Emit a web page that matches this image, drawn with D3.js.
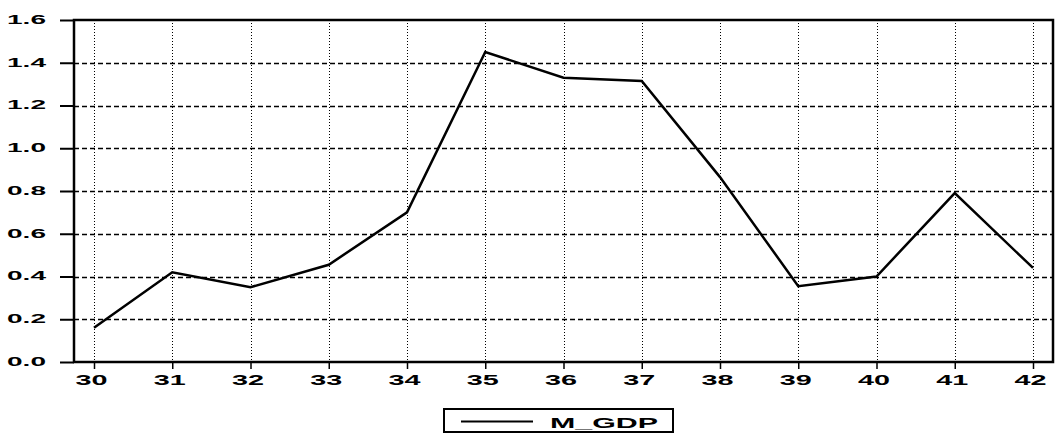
<!DOCTYPE html>
<html>
<head>
<meta charset="utf-8">
<script src="https://cdn.jsdelivr.net/npm/d3@7"></script>
<style>
  html, body { margin: 0; padding: 0; background: #fff; }
  svg { display: block; }
  text { font-family: "Liberation Sans", Arial, sans-serif; font-weight: bold; fill: #000; }
</style>
</head>
<body>
<svg id="chart" width="1058" height="434"></svg>
<script>
const years = [30, 31, 32, 33, 34, 35, 36, 37, 38, 39, 40, 41, 42];
const mGdp = [0.16, 0.42, 0.35, 0.455, 0.70, 1.45, 1.33, 1.315, 0.865, 0.355, 0.40, 0.79, 0.44];
const yTicks = [0.0, 0.2, 0.4, 0.6, 0.8, 1.0, 1.2, 1.4, 1.6];
const seriesName = "M_GDP";

const svg = d3.select("#chart");
const box = { left: 74, right: 1053, top: 20, bottom: 362 };

const x = d3.scaleLinear().domain([30, 42]).range([94, 1033]);
const y = d3.scaleLinear().domain([0, 1.6]).range([box.bottom, box.top]);

// horizontal dashed grid
svg.append("g").selectAll("line")
  .data(yTicks.filter(d => d > 0 && d < 1.6))
  .join("line")
  .attr("x1", box.left).attr("x2", box.right)
  .attr("y1", d => Math.round(y(d)) + 0.5).attr("y2", d => Math.round(y(d)) + 0.5)
  .attr("stroke", "#000").attr("stroke-width", 1.3)
  .attr("stroke-dasharray", "5,3");

// vertical dotted grid
svg.append("g").selectAll("line")
  .data(years)
  .join("line")
  .attr("x1", d => Math.round(x(d)) + 0.5).attr("x2", d => Math.round(x(d)) + 0.5)
  .attr("y1", box.top).attr("y2", box.bottom)
  .attr("stroke", "#000").attr("stroke-width", 1)
  .attr("stroke-dasharray", "1,2");

// y axis
const yAxis = svg.append("g")
  .attr("transform", `translate(${box.left},0)`)
  .call(d3.axisLeft(y).tickValues(yTicks).tickFormat(d3.format(".1f")).tickSize(14).tickPadding(14));
yAxis.select(".domain").remove();
yAxis.selectAll(".tick line").attr("stroke", "#000").attr("stroke-width", 2);
yAxis.selectAll(".tick text")
  .attr("x", -28).attr("dy", "0.25em")
  .attr("font-size", 13.5)
  .attr("textLength", 39).attr("lengthAdjust", "spacingAndGlyphs");

// x axis
const xAxis = svg.append("g")
  .attr("transform", `translate(0,${box.bottom})`)
  .call(d3.axisBottom(x).tickValues(years).tickFormat(d3.format("d")).tickSize(7));
xAxis.select(".domain").remove();
xAxis.selectAll(".tick line").attr("stroke", "#000").attr("stroke-width", 1.5);
xAxis.selectAll(".tick text")
  .attr("x", -3).attr("y", 23).attr("dy", 0)
  .attr("font-size", 14.5)
  .attr("textLength", 32).attr("lengthAdjust", "spacingAndGlyphs");

// plot frame
svg.append("rect")
  .attr("x", box.left).attr("y", box.top)
  .attr("width", box.right - box.left).attr("height", box.bottom - box.top)
  .attr("fill", "none").attr("stroke", "#000").attr("stroke-width", 2.5);

// series line
svg.append("path")
  .datum(years.map((yr, i) => [yr, mGdp[i]]))
  .attr("d", d3.line().x(d => x(d[0])).y(d => y(d[1])))
  .attr("fill", "none").attr("stroke", "#000").attr("stroke-width", 2.5)
  .attr("stroke-linejoin", "miter");

// legend
const leg = svg.append("g");
leg.append("rect")
  .attr("x", 444).attr("y", 409).attr("width", 229).attr("height", 23)
  .attr("fill", "#fff").attr("stroke", "#000").attr("stroke-width", 2);
leg.append("line")
  .attr("x1", 461).attr("x2", 533).attr("y1", 421.5).attr("y2", 421.5)
  .attr("stroke", "#000").attr("stroke-width", 2);
leg.append("text")
  .attr("x", 550).attr("y", 427.5)
  .attr("font-size", 15)
  .attr("textLength", 108).attr("lengthAdjust", "spacingAndGlyphs")
  .text(seriesName);
</script>
</body>
</html>
